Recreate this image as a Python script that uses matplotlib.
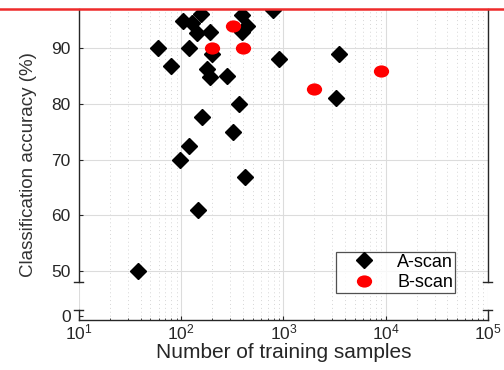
import numpy as np
import matplotlib
matplotlib.use("Agg")
import matplotlib.pyplot as plt
from matplotlib.lines import Line2D
from matplotlib.path import Path
from matplotlib.ticker import FixedLocator, FixedFormatter, LogLocator, NullFormatter

plt.rcParams['font.family'] = ['Liberation Sans', 'DejaVu Sans']
plt.rcParams['mathtext.default'] = 'regular'

# A-scan studies: training-set size vs. reported accuracy
ascan_samples = [38, 59.6, 78.7, 98, 105, 119, 119, 127, 142, 145, 157, 160,
                 177, 191, 191, 198, 282, 322, 366, 394, 394, 420, 437, 795,
                 908, 3250, 3460]
ascan_accuracy = [49.9, 90.0, 86.9, 69.9, 95.0, 90.0, 72.4, 94.6, 92.7, 60.9,
                  96.2, 77.6, 86.3, 92.9, 84.8, 89.0, 85.0, 74.9, 79.9, 95.9,
                  92.9, 66.9, 94.1, 96.8, 88.0, 81.1, 89.0]

# B-scan studies
bscan_samples = [201, 318, 403, 1996, 8955]
bscan_accuracy = [90.0, 94.0, 90.0, 82.6, 86.0]

y_ticks = [0, 50, 60, 70, 80, 90]
y_tick_labels = ['0', '50', '60', '70', '80', '90']

# compressed region below 50 for the broken y-axis
K = 0.162


def fwd(y):
    y = np.asarray(y, dtype=float)
    return np.where(y >= 50, y, 50 - (50 - y) * K)


def inv(v):
    v = np.asarray(v, dtype=float)
    return np.where(v >= 50, v, 50 - (50 - v) / K)


fig = plt.figure(figsize=(5.04, 3.70), dpi=100)
ax = fig.add_axes([0.1567, 0.135, 0.8115, 0.8407])

ax.set_xscale('log')
ax.set_yscale('function', functions=(fwd, inv))
ax.set_xlim(10, 1e5)
ax.set_ylim(-4.75, 97.07)

# grid
ax.xaxis.set_minor_locator(LogLocator(base=10, subs=np.arange(2, 10)))
ax.xaxis.set_minor_formatter(NullFormatter())
ax.yaxis.set_major_locator(FixedLocator(y_ticks))
ax.yaxis.set_major_formatter(FixedFormatter(y_tick_labels))
ax.yaxis.set_minor_locator(FixedLocator([]))
ax.grid(True, which='major', color='#dcdcdc', lw=0.8, ls='-')
ax.grid(True, which='minor', axis='x', color='#d6d6d6', lw=0.7, ls=(0, (1, 3)))
ax.get_ygridlines()[0].set_visible(False)
ax.set_axisbelow(True)

ellipse = Path.unit_circle().transformed(matplotlib.transforms.Affine2D().scale(1.0, 0.8))

ax.plot(ascan_samples, ascan_accuracy, ls='none', marker='D', ms=7.8,
        color='black', mec='black', label='A-scan', zorder=3)
ax.plot(bscan_samples, bscan_accuracy, ls='none', marker=ellipse, ms=11,
        color='#ff0000', mec='#ff0000', mew=0, label='B-scan', zorder=4)

ax.tick_params(axis='both', which='both', direction='in', colors='#262626',
               labelsize=12.5, labelcolor='#262626')
ax.tick_params(axis='both', which='major', length=3)
ax.tick_params(axis='x', which='both', pad=2)
ax.tick_params(axis='x', which='minor', length=1.5)
ax.tick_params(axis='y', which='both', left=True, right=False, pad=6)

for side in ('left', 'right', 'top'):
    ax.spines[side].set_visible(False)
ax.spines['bottom'].set_color('#262626')
ax.spines['bottom'].set_linewidth(1.0)

# broken left/right spines with end caps at the break
y_break_hi, y_break_lo = 37.5, 6.4
ylo, yhi = ax.get_ylim()
for xa in (0.0, 1.0):
    tr = matplotlib.transforms.blended_transform_factory(ax.transAxes, ax.transData)
    ax.add_line(Line2D([xa, xa], [y_break_hi, yhi], transform=tr, color='#262626',
                       lw=1.0, clip_on=False))
    ax.add_line(Line2D([xa, xa], [ylo, y_break_lo], transform=tr, color='#262626',
                       lw=1.0, clip_on=False))
    for yb in (y_break_hi, y_break_lo):
        ax.add_line(Line2D([xa - 0.011, xa + 0.011], [yb, yb], transform=tr,
                           color='#262626', lw=1.0, clip_on=False))

ax.set_xlabel('Number of training samples', fontsize=15, color='#262626', labelpad=0)
ax.set_ylabel('Classification accuracy (%)', fontsize=13.5, color='#333333', labelpad=10)

leg = ax.legend(loc='lower right', bbox_to_anchor=(0.919, 0.087), fontsize=13,
                frameon=True, fancybox=False, edgecolor='#262626',
                handletextpad=0.4, borderpad=0.1, labelspacing=0.2,
                handlelength=2.9, borderaxespad=0)
leg.get_frame().set_linewidth(0.9)

# red rule along the top edge of the plot area
top_y = ax.get_position().y1
fig.add_artist(Line2D([0, 1], [top_y, top_y], transform=fig.transFigure,
                      color='#ee2b2b', lw=1.8))

fig.savefig('out.png', dpi=100)
